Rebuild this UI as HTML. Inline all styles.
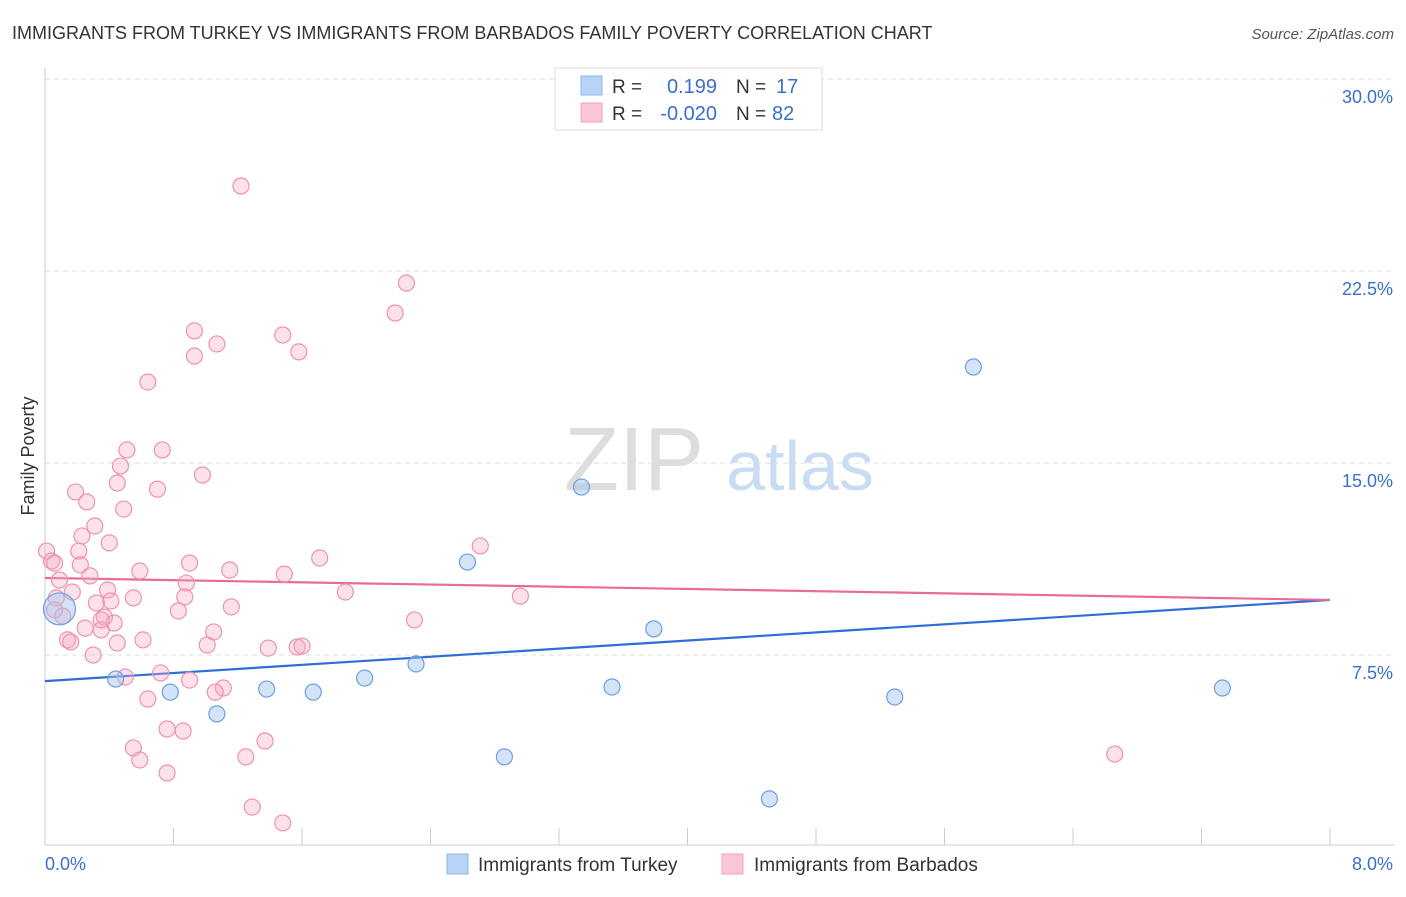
<!DOCTYPE html>
<html><head><meta charset="utf-8"><style>
body{margin:0;background:#fff;font-family:"Liberation Sans",sans-serif;}
svg text{font-family:"Liberation Sans",sans-serif;}
</style></head><body>
<svg id="chart" width="1406" height="892" xmlns="http://www.w3.org/2000/svg">
<text x="12" y="39" font-size="18" fill="#333">IMMIGRANTS FROM TURKEY VS IMMIGRANTS FROM BARBADOS FAMILY POVERTY CORRELATION CHART</text>
<text x="1394" y="39" font-size="15" fill="#555" font-style="italic" text-anchor="end">Source: ZipAtlas.com</text>
<text x="34" y="456" font-size="18" fill="#333" text-anchor="middle" transform="rotate(-90 34 456)">Family Poverty</text>
<g>
<text x="634" y="490" font-size="90" fill="#ddd" font-family="Liberation Serif" text-anchor="middle">ZIP</text>
<text x="800" y="490" font-size="70" fill="#c9dcf3" text-anchor="middle">atlas</text>
</g>
<g id="grid"></g><g id="axes"></g><g id="lines"></g><g id="points"></g>
<g>
<rect x="555" y="68" width="267" height="62" fill="#fff" stroke="#ddd"/>
<rect x="581" y="76" width="21" height="19" fill="#b8d3f6" stroke="#8fb6ea"/>
<rect x="581" y="103" width="21" height="19" fill="#fbc6d5" stroke="#f0a3bb"/>
<text x="612" y="93" font-size="19" fill="#333">R = </text><text x="717" y="93" font-size="20" fill="#3a70cc" text-anchor="end">0.199</text>
<text x="736" y="93" font-size="19" fill="#333">N = </text><text x="776" y="93" font-size="20" fill="#3a70cc">17</text>
<text x="612" y="120" font-size="19" fill="#333">R = </text><text x="717" y="120" font-size="20" fill="#3a70cc" text-anchor="end">-0.020</text>
<text x="736" y="120" font-size="19" fill="#333">N = </text><text x="772" y="120" font-size="20" fill="#3a70cc">82</text>
</g>
<g>
<rect x="447" y="854" width="21" height="20" fill="#b8d3f6" stroke="#8fb6ea"/>
<text x="478" y="871" font-size="19" fill="#333">Immigrants from Turkey</text>
<rect x="722" y="854" width="21" height="20" fill="#fbc6d5" stroke="#f0a3bb"/>
<text x="754" y="871" font-size="19" fill="#333">Immigrants from Barbados</text>
</g>
</svg>
<script>
const yTicks=[7.5,15,22.5,30];
const yTickLabels=["7.5%","15.0%","22.5%","30.0%"];
const xTickLabels=["0.0%","8.0%"];
const turkeyX=[0.44,0.78,1.07,1.38,1.67,1.99,2.31,2.63,2.86,3.34,3.53,3.79,4.51,5.29,5.78,7.33,0.09];
const turkeyY=[6.56,6.05,5.20,6.17,6.05,6.60,7.15,11.13,3.52,14.06,6.25,8.52,1.88,5.86,18.75,6.21,9.30];
const barbX=[1.22,2.25,2.18,0.93,1.48,1.07,1.58,0.93,0.64,0.51,0.73,0.47,0.98,0.45,0.70,0.19,0.26,0.49,0.31,0.23,0.40,0.01,0.21,0.04,0.90,2.71,1.71,0.22,0.59,1.15,1.49,0.28,0.09,0.88,0.39,0.17,1.87,2.96,0.55,0.87,0.32,0.41,0.07,0.83,1.16,0.11,0.37,0.25,0.43,0.35,1.05,2.30,0.14,0.61,1.01,0.45,0.30,1.39,1.57,0.72,0.50,0.90,1.11,1.06,0.64,0.76,0.86,0.55,0.59,1.25,1.37,0.76,1.29,1.48,6.66,0.16,0.06,0.06,0.35,1.60];
const barbY=[25.82,22.03,20.86,20.16,20.0,19.65,19.34,19.18,18.16,15.51,15.51,14.88,14.53,14.22,13.98,13.87,13.48,13.20,12.54,12.15,11.88,11.56,11.56,11.17,11.09,11.76,11.29,11.02,10.78,10.82,10.66,10.59,10.43,10.31,10.04,9.96,9.96,9.80,9.73,9.77,9.53,9.61,9.73,9.22,9.38,9.02,8.98,8.55,8.75,8.48,8.40,8.87,8.09,8.09,7.89,7.97,7.50,7.77,7.81,6.80,6.64,6.52,6.21,6.05,5.78,4.61,4.53,3.87,3.40,3.52,4.14,2.89,1.56,0.94,3.63,8.01,11.09,9.26,8.87,7.85];
const turkeyTrend=[6.48,9.65];
const barbTrend=[10.51,9.65];
const X0=45,X1=1330,Y0=847,YS=25.6;
const sx=v=>X0+v/8*(X1-X0);
const sy=v=>Y0-v*YS;
const NS="http://www.w3.org/2000/svg";
function mk(tag,parent,attrs){const e=document.createElementNS(NS,tag);for(const k in attrs)e.setAttribute(k,attrs[k]);document.getElementById(parent).appendChild(e);return e;}
yTicks.forEach((t,i)=>{
 const g=mk('line','grid',{x1:X0,x2:1394,y1:sy(t),y2:sy(t),stroke:'#ddd','stroke-dasharray':'5,4'});
 
 
 const l=mk('text','axes',{x:1393,y:sy(t)+24,'font-size':18,fill:'#3a70cc','text-anchor':'end'});
 l.textContent=yTickLabels[i];
 
 
});
const ax=mk('line','axes',{x1:X0,x2:X0,y1:68,y2:845,stroke:'#ccc'});


const bx=mk('line','axes',{x1:X0,x2:1394,y1:845,y2:845,stroke:'#ccc'});


for(let i=0;i<=10;i++){
 const t=mk('line','axes',{x1:sx(i*0.8),x2:sx(i*0.8),y1:828,y2:845,stroke:'#ccc'});
 
 
}
const xl0=mk('text','axes',{x:45,y:870,'font-size':18,fill:'#3a70cc'});xl0.textContent=xTickLabels[0];


const xl1=mk('text','axes',{x:1393,y:870,'font-size':18,fill:'#3a70cc','text-anchor':'end'});xl1.textContent=xTickLabels[1];


barbX.forEach((x,i)=>{
 const c=mk('circle','points',{cx:sx(x),cy:sy(barbY[i]),r:8,fill:'rgba(246,170,195,0.35)',stroke:'#ec93b0','stroke-width':1.2});
 
 
});
turkeyX.forEach((x,i)=>{
 const c=mk('circle','points',{cx:sx(x),cy:sy(turkeyY[i]),r:i===16?16:8,fill:'rgba(160,195,240,0.45)',stroke:'#6f9fdf','stroke-width':1.2});
 
 
});
const tl=mk('line','lines',{x1:sx(0),x2:sx(8),y1:sy(turkeyTrend[0]),y2:sy(turkeyTrend[1]),stroke:'#2e6fd6','stroke-width':2.2});


const pl=mk('line','lines',{x1:sx(0),x2:sx(8),y1:sy(barbTrend[0]),y2:sy(barbTrend[1]),stroke:'#e76c96','stroke-width':2.2});


</script>
</body></html>
